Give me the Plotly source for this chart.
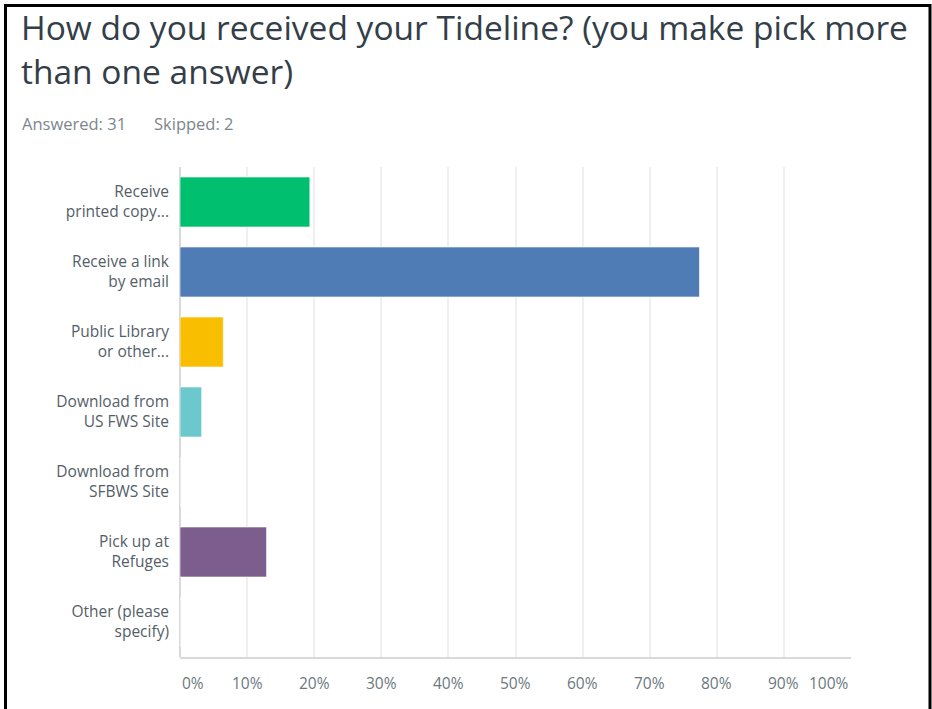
import plotly.graph_objects as go

categories = [
    "Receive<br>printed copy...",
    "Receive a link<br>by email",
    "Public Library<br>or other...",
    "Download from<br>US FWS Site",
    "Download from<br>SFBWS Site",
    "Pick up at<br>Refuges",
    "Other (please<br>specify)",
]
percent_values = [19.35, 77.42, 6.45, 3.23, 0.0, 12.90, 0.0]
bar_colors = ["#00bf6f", "#507cb6", "#f9be00", "#6bc8cd", "#6bc8cd", "#7d5d8d", "#7d5d8d"]
tick_values = [0, 10, 20, 30, 40, 50, 60, 70, 80, 90, 100]
tick_labels = [f"{v}%" for v in tick_values]
title_text = "How do you received your Tideline? (you make pick more<br>than one answer)"
answered_text = "Answered: 31"
skipped_text = "Skipped: 2"

W, H = 932, 709
L, R, T, B = 180, 81, 167, 52
PW, PH = W - L - R, H - T - B


def px_x(px):
    return (px - L) / PW


def px_y(py):
    return (H - B - py) / PH


FONT = "Open Sans"
fig = go.Figure()
fig.add_trace(go.Bar(
    x=percent_values,
    y=categories,
    orientation="h",
    marker=dict(color=bar_colors, line=dict(color="rgba(255,255,255,0.6)", width=1)),
    hoverinfo="x+y",
))

annotations = []
for v, lab in zip(tick_values, tick_labels):
    anchor = "left" if v == tick_values[0] else ("right" if v == tick_values[-1] else "center")
    annotations.append(dict(
        x=v, xref="x", y=0, yref="paper", yshift=-26, yanchor="middle",
        xanchor=anchor, text=lab, showarrow=False,
        font=dict(family=FONT, size=15.5, color="#6b7880"),
    ))
annotations.append(dict(x=px_x(19), y=px_y(2), xref="paper", yref="paper",
                        xanchor="left", yanchor="top", align="left", text=title_text,
                        showarrow=False, font=dict(family=FONT, size=33.5, color="#333e48")))
annotations.append(dict(x=px_x(20), y=px_y(123), xref="paper", yref="paper",
                        xanchor="left", yanchor="middle", text=answered_text,
                        showarrow=False, font=dict(family=FONT, size=16.5, color="#7c868d")))
annotations.append(dict(x=px_x(152), y=px_y(123), xref="paper", yref="paper",
                        xanchor="left", yanchor="middle", text=skipped_text,
                        showarrow=False, font=dict(family=FONT, size=16.5, color="#7c868d")))

fig.update_layout(
    width=W, height=H,
    margin=dict(l=L, r=R, t=T, b=B),
    paper_bgcolor="white", plot_bgcolor="white",
    showlegend=False,
    bargap=0.286,
    xaxis=dict(range=[0, 100], tickvals=tick_values, showticklabels=False,
               showgrid=True, gridcolor="#efefef", gridwidth=1.5,
               zeroline=True, zerolinecolor="#d9d9d9", zerolinewidth=2,
               showline=True, linecolor="#d9d9d9", linewidth=2, fixedrange=True),
    yaxis=dict(autorange="reversed", showgrid=False, ticks="", ticklabelstandoff=10,
               tickfont=dict(family=FONT, size=15.5, color="#545e68"), fixedrange=True),
    annotations=annotations,
    shapes=[dict(type="rect", xref="paper", yref="paper",
                 x0=px_x(5.5), x1=px_x(930), y0=px_y(715), y1=px_y(5.5),
                 line=dict(color="black", width=3), fillcolor="rgba(0,0,0,0)", layer="above")],
)

fig.write_html(
    "out.html",
    config={"displayModeBar": False},
    post_script="document.body.style.margin='0';document.body.style.overflow='hidden';",
)
